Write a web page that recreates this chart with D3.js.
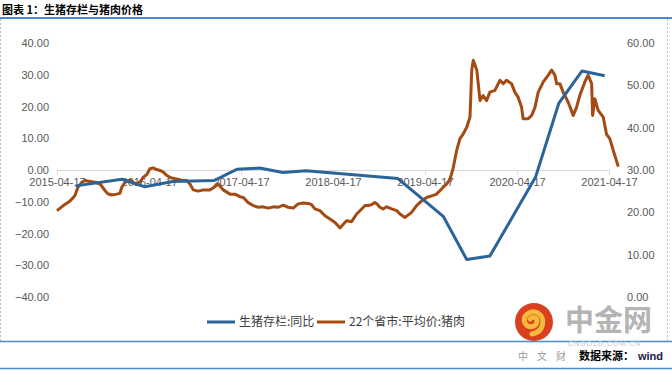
<!DOCTYPE html>
<html>
<head>
<meta charset="utf-8">
<script src="https://cdn.jsdelivr.net/npm/d3@7"></script>
<style>
body { margin: 0; background: #fff; }
svg { display: block; }
</style>
</head>
<body>
<div id="chart"></div>
<script>
// 生猪存栏:同比 (%)
const stockDates = ['2015-06-30', '2015-12-31', '2016-03-31', '2016-07-20', '2016-12-31', '2017-03-31',
    '2017-06-30', '2017-09-30', '2017-12-31', '2018-12-31', '2019-06-30', '2019-09-30', '2019-12-31',
    '2020-06-30', '2020-09-30', '2020-12-31', '2021-03-31'];
const stockYoY = [-5.0, -2.9, -5.3, -3.6, -3.3, 0.2, 0.6, -0.8, -0.2, -2.7, -14.7, -28.2, -27.1,
    -2.1, 21.1, 31.2, 29.7];

// 22个省市:平均价:猪肉 (元/公斤)
const priceDates = ['2015-04-17', '2015-05-12', '2015-06-08', '2015-06-27', '2015-07-09', '2015-07-24',
    '2015-08-06', '2015-08-26', '2015-09-15', '2015-10-05', '2015-10-25', '2015-11-05', '2015-11-20',
    '2015-12-10', '2015-12-23', '2015-12-30', '2016-01-12', '2016-02-01', '2016-02-13', '2016-02-27',
    '2016-03-12', '2016-03-25', '2016-04-07', '2016-04-20', '2016-05-03', '2016-05-17', '2016-05-30',
    '2016-06-12', '2016-06-26', '2016-07-15', '2016-08-04', '2016-08-24', '2016-09-13', '2016-09-26',
    '2016-10-09', '2016-10-29', '2016-11-18', '2016-12-14', '2016-12-28', '2017-01-16', '2017-02-05',
    '2017-03-04', '2017-03-24', '2017-04-12', '2017-04-26', '2017-05-15', '2017-06-04', '2017-06-24',
    '2017-07-14', '2017-08-03', '2017-08-23', '2017-09-12', '2017-10-01', '2017-10-21', '2017-11-10',
    '2017-11-30', '2017-12-20', '2018-01-09', '2018-01-22', '2018-02-04', '2018-02-24', '2018-03-16',
    '2018-04-05', '2018-04-25', '2018-05-15', '2018-05-28', '2018-06-10', '2018-06-30', '2018-07-20',
    '2018-08-09', '2018-08-22', '2018-09-04', '2018-09-17', '2018-09-30', '2018-10-10', '2018-10-20',
    '2018-11-02', '2018-11-16', '2018-12-06', '2018-12-26', '2019-01-08', '2019-01-28', '2019-02-10',
    '2019-02-23', '2019-03-15', '2019-04-04', '2019-04-24', '2019-05-14', '2019-06-02', '2019-06-22',
    '2019-07-12', '2019-07-25', '2019-08-07', '2019-08-21', '2019-09-03', '2019-09-16', '2019-09-30',
    '2019-10-13', '2019-10-20', '2019-10-26', '2019-11-09', '2019-11-22', '2019-12-04', '2019-12-18',
    '2019-12-31', '2020-01-20', '2020-02-09', '2020-02-22', '2020-03-06', '2020-03-26', '2020-04-08',
    '2020-04-21', '2020-05-05', '2020-05-11', '2020-05-31', '2020-06-14', '2020-06-27', '2020-07-10',
    '2020-07-30', '2020-08-19', '2020-09-01', '2020-09-14', '2020-09-21', '2020-10-04', '2020-10-17',
    '2020-11-06', '2020-11-26', '2020-12-09', '2020-12-22', '2021-01-11', '2021-01-24', '2021-02-07',
    '2021-02-11', '2021-02-20', '2021-03-05', '2021-03-25', '2021-04-07', '2021-04-20', '2021-05-04',
    '2021-05-24'];
const priceValues = [20.4, 21.6, 22.7, 23.9, 25.9, 27.1,
    27.5, 27.3, 27.1, 26.7, 25.1, 24.4, 24.1,
    24.3, 24.5, 25.9, 27.1, 27.6, 27.1, 26.7,
    27.2, 28.3, 28.9, 30.3, 30.5, 30.1, 29.9,
    29.5, 28.7, 28.1, 27.9, 27.6, 27.5, 26.7,
    25.3, 25.0, 25.3, 25.3, 25.8, 26.7, 25.3,
    24.3, 24.3, 23.7, 23.5, 22.3, 21.6, 21.2,
    21.3, 21.0, 21.3, 21.2, 21.7, 21.2, 21.0,
    22.0, 22.2, 22.1, 21.8, 20.8, 20.4, 19.2,
    18.4, 17.6, 16.3, 17.2, 18.0, 17.8, 19.6,
    20.8, 21.6, 21.6, 21.8, 22.3, 21.9, 21.2,
    20.8, 21.3, 20.8, 20.4, 19.6, 18.8, 19.4,
    20.0, 21.6, 22.7, 23.5, 23.9, 24.3, 25.5,
    26.7, 27.7, 30.4, 34.6, 37.4, 38.5, 40.1,
    42.5, 53.6, 55.9, 53.6, 46.4, 47.6, 46.4,
    48.4, 48.8, 51.2, 50.4, 51.2, 50.4, 48.4,
    47.2, 44.8, 42.1, 42.1, 42.9, 44.8, 48.4,
    50.8, 52.4, 53.6, 52.4, 50.4, 50.4, 48.4,
    46.0, 42.9, 44.8, 47.6, 50.8, 52.4, 50.4,
    42.9, 46.8, 44.1, 42.5, 38.5, 37.4, 34.6,
    30.8];

const tickDates = ['2015-04-17', '2016-04-17', '2017-04-17', '2018-04-17', '2019-04-17', '2020-04-17', '2021-04-17'];
const leftTicks = [40, 30, 20, 10, 0, -10, -20, -30, -40];
const rightTicks = [60, 50, 40, 30, 20, 10, 0];
const seriesNames = ['生猪存栏:同比', '22个省市:平均价:猪肉'];

const W = 672, H = 372,
    blue = '#2c6399',
    brown = '#a34b13',
    frame = '#4a8acb',
    numFont = '"Liberation Sans", Arial, sans-serif',
    cjkFont = '"Noto Sans CJK SC", "Liberation Sans", sans-serif',
    parse = d3.timeParse('%Y-%m-%d');

const svg = d3.select('#chart').append('svg')
    .attr('width', W)
    .attr('height', H);

svg.append('rect').attr('width', W).attr('height', H).attr('fill', '#fff');

// frame: title underline, dashed sides, bottom rules
svg.append('line').attr('x1', 0).attr('x2', W).attr('y1', 18).attr('y2', 18)
    .attr('stroke', frame).attr('stroke-width', 2);
svg.append('line').attr('x1', 0).attr('x2', W).attr('y1', 341.5).attr('y2', 341.5)
    .attr('stroke', frame).attr('stroke-width', 1.5);
svg.append('line').attr('x1', 0).attr('x2', W).attr('y1', 368.5).attr('y2', 368.5)
    .attr('stroke', frame).attr('stroke-width', 1.5);
[0.5, 667.5].forEach(x => {
    svg.append('line').attr('x1', x).attr('x2', x).attr('y1', 19).attr('y2', 341)
        .attr('stroke', '#bbb').attr('stroke-dasharray', '2,2');
});

svg.append('text')
    .attr('x', 2).attr('y', 14)
    .attr('font-family', cjkFont)
    .attr('font-size', '11px')
    .attr('font-weight', 700)
    .attr('fill', '#000')
    .text('图表 1：生猪存栏与猪肉价格');

// scales
const x = d3.scaleTime()
    .domain([parse(tickDates[0]), parse(tickDates[tickDates.length - 1])])
    .range([57, 609]);
const yL = d3.scaleLinear().domain([-40, 40]).range([297, 43]);
const yR = d3.scaleLinear().domain([0, 60]).range([297, 43]);

// left axis
const axL = svg.append('g').attr('transform', 'translate(49,0)')
    .call(d3.axisLeft(yL).tickValues(leftTicks).tickFormat(d3.format('.2f')).tickSize(0).tickPadding(0));
axL.select('.domain').remove();
axL.selectAll('text').attr('font-family', numFont).attr('font-size', '11px').attr('fill', '#595959');

// right axis
const axR = svg.append('g').attr('transform', 'translate(627,0)')
    .call(d3.axisRight(yR).tickValues(rightTicks).tickFormat(d3.format('.2f')).tickSize(0).tickPadding(0));
axR.select('.domain').remove();
axR.selectAll('text').attr('font-family', numFont).attr('font-size', '11px').attr('fill', '#595959');

// x axis at zero
const axX = svg.append('g').attr('transform', 'translate(0,' + yL(0) + ')')
    .call(d3.axisBottom(x).tickValues(tickDates.map(parse)).tickFormat(d3.timeFormat('%Y-%m-%d'))
        .tickSizeInner(5).tickSizeOuter(0).tickPadding(3));
axX.select('.domain').attr('stroke', '#d9d9d9');
axX.selectAll('line').attr('stroke', '#d9d9d9');
axX.selectAll('text').attr('font-family', numFont).attr('font-size', '11px').attr('fill', '#595959');

// series
const stock = stockDates.map((d, i) => ({ d: parse(d), v: stockYoY[i] }));
const price = priceDates.map((d, i) => ({ d: parse(d), v: priceValues[i] }));

svg.append('path')
    .datum(price)
    .attr('fill', 'none')
    .attr('stroke', brown)
    .attr('stroke-width', 3)
    .attr('stroke-linejoin', 'round')
    .attr('d', d3.line().x(p => x(p.d)).y(p => yR(p.v)));

svg.append('path')
    .datum(stock)
    .attr('fill', 'none')
    .attr('stroke', blue)
    .attr('stroke-width', 3)
    .attr('stroke-linejoin', 'round')
    .attr('d', d3.line().x(p => x(p.d)).y(p => yL(p.v)));

// legend
const legend = [
    { name: seriesNames[0], color: blue, x: 207 },
    { name: seriesNames[1], color: brown, x: 317 }
];
legend.forEach(l => {
    svg.append('line').attr('x1', l.x).attr('x2', l.x + 28).attr('y1', 322).attr('y2', 322)
        .attr('stroke', l.color).attr('stroke-width', 3);
    svg.append('text').attr('x', l.x + 32).attr('y', 326)
        .attr('font-family', cjkFont).attr('font-size', '12px').attr('fill', '#404040')
        .text(l.name);
});

// watermark + source
const logo = svg.append('g').attr('transform', 'translate(534,322)');
logo.append('circle').attr('r', 19).attr('fill', '#d9401f');
logo.append('path')
    .attr('d', 'M-2,12 C10,10 12,-4 4,-9 C-4,-13 -12,-6 -9,1 C-6,7 3,5 3,-1 C3,-5 -2,-6 -4,-3')
    .attr('fill', 'none').attr('stroke', '#f6b93b').attr('stroke-width', 5).attr('stroke-linecap', 'round');
svg.append('text').attr('x', 565).attr('y', 331)
    .attr('font-family', cjkFont).attr('font-size', '29px').attr('font-weight', 700)
    .attr('fill', '#b4b4b4').text('中金网');
svg.append('text').attr('x', 568).attr('y', 346)
    .attr('font-family', numFont).attr('font-size', '7px').attr('letter-spacing', '1px')
    .attr('fill', '#c4c4c4').text('CNGOLD.COM.CN');
svg.append('text').attr('x', 518).attr('y', 360)
    .attr('font-family', cjkFont).attr('font-size', '10px').attr('letter-spacing', '9px')
    .attr('fill', '#9a9a9a').text('中文财');
svg.append('text').attr('x', 579).attr('y', 360)
    .attr('font-family', cjkFont).attr('font-size', '11px').attr('font-weight', 700)
    .attr('fill', '#000').text('数据来源：');
svg.append('text').attr('x', 638).attr('y', 360)
    .attr('font-family', numFont).attr('font-size', '11px').attr('font-weight', 700)
    .attr('fill', '#1a1a4a').text('wind');
</script>
</body>
</html>
